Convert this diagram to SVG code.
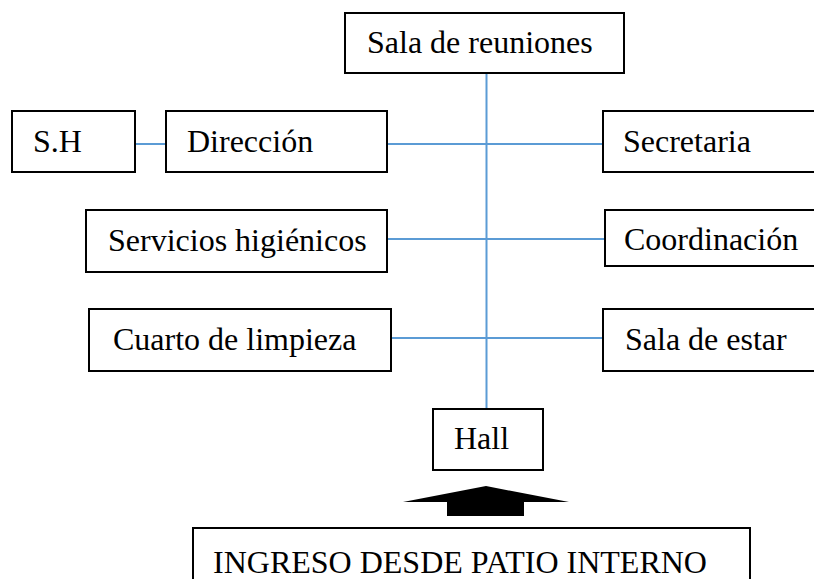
<svg xmlns="http://www.w3.org/2000/svg" width="814" height="579" viewBox="0 0 814 579">
<style>
.box{fill:#fff;stroke:#000;stroke-width:2}
.lbl{font-family:"Liberation Serif","Times New Roman",serif;font-size:32px;fill:#000}
.con{stroke:#5b9bd5;stroke-width:2;fill:none}
</style>
<rect width="814" height="579" fill="#fff"/>
<g id="connectors">
<line class="con" x1="486.5" y1="73" x2="486.5" y2="409"/>
<line class="con" x1="135" y1="144" x2="166" y2="144"/>
<line class="con" x1="387" y1="144" x2="603" y2="144"/>
<line class="con" x1="387" y1="239" x2="605" y2="239"/>
<line class="con" x1="391" y1="338" x2="604" y2="338"/>
</g>
<g id="sala-reuniones"><rect class="box" x="345" y="13" width="279" height="60"/><text class="lbl" x="367" y="53">Sala de reuniones</text></g>
<g id="sh"><rect class="box" x="12" y="111" width="123" height="61"/><text class="lbl" x="33" y="152">S.H</text></g>
<g id="direccion"><rect class="box" x="166" y="111" width="221" height="61"/><text class="lbl" x="187" y="152">Dirección</text></g>
<g id="secretaria"><rect class="box" x="603" y="111" width="220" height="61"/><text class="lbl" x="623" y="152">Secretaria</text></g>
<g id="servicios"><rect class="box" x="86" y="210" width="301" height="62"/><text class="lbl" x="108" y="251">Servicios higiénicos</text></g>
<g id="coordinacion"><rect class="box" x="605" y="210" width="220" height="56"/><text class="lbl" x="624" y="250">Coordinación</text></g>
<g id="cuarto"><rect class="box" x="89" y="309" width="302" height="62"/><text class="lbl" x="113" y="350">Cuarto de limpieza</text></g>
<g id="sala-estar"><rect class="box" x="603" y="309" width="220" height="62"/><text class="lbl" x="625" y="350">Sala de estar</text></g>
<g id="hall"><rect class="box" x="433" y="409" width="110" height="61"/><text class="lbl" x="454" y="449">Hall</text></g>
<g id="arrow"><polygon points="486,486 569,502 524,502 524,516 447,516 447,502 403,502" fill="#000"/></g>
<g id="ingreso"><rect class="box" x="193" y="528" width="557" height="70"/><text class="lbl" x="213" y="573">INGRESO DESDE PATIO INTERNO</text></g>
</svg>
